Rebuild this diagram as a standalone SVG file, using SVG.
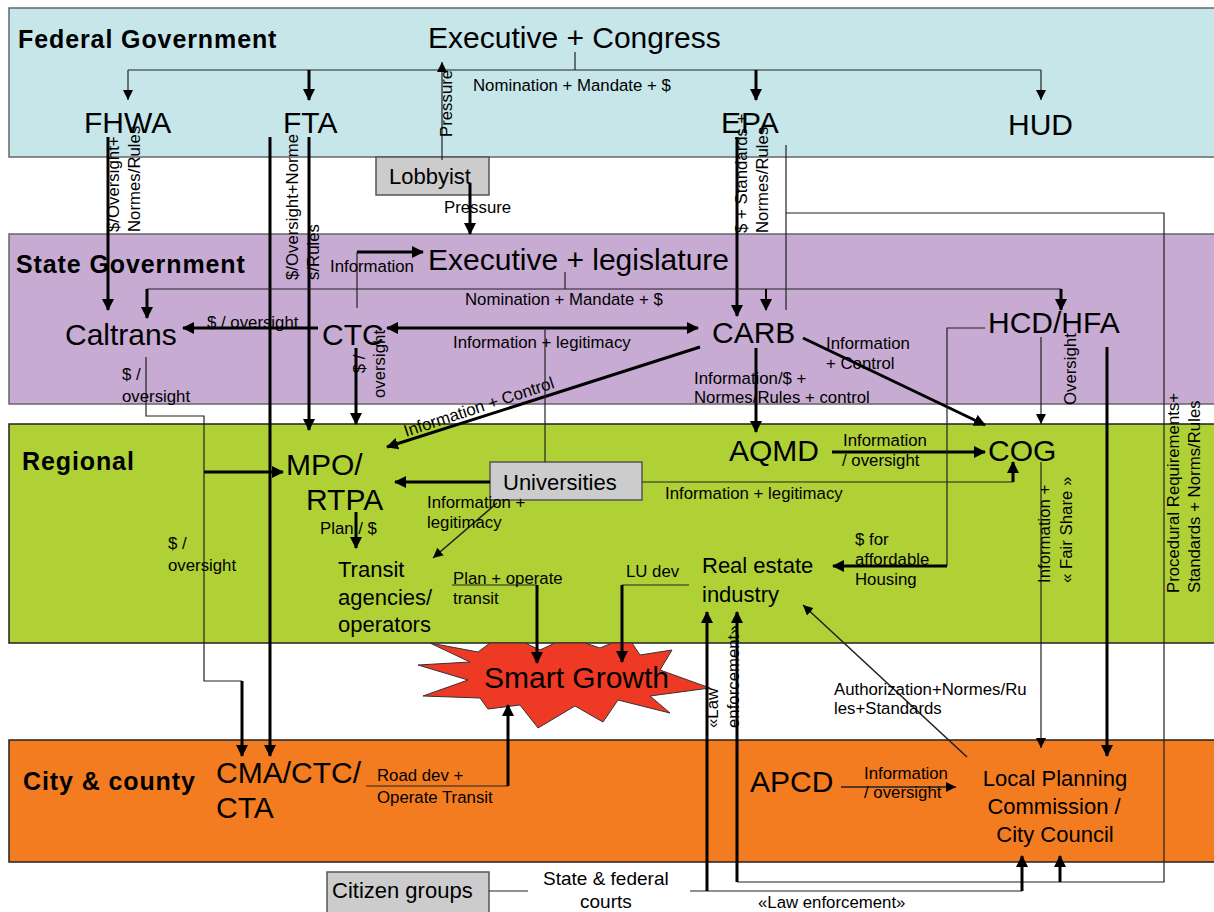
<svg xmlns="http://www.w3.org/2000/svg" width="1214" height="912" viewBox="0 0 1214 912">
<defs>
<style>
text{font-family:"Liberation Sans",Arial,sans-serif;fill:#000}
.band{stroke-width:1.5}
.h{font-weight:bold;font-size:25px;letter-spacing:0.9px}
.big{font-size:30px}
.med{font-size:22px}
.sm{font-size:16.8px}
.th{fill:none;stroke:#000;stroke-width:3}
.tn{fill:none;stroke:#222;stroke-width:1.2}
.box{fill:#cccccc;stroke:#555;stroke-width:1.5}
.ta{marker-end:url(#a3)}
.na{marker-end:url(#a1)}
</style>
<marker id="a3" viewBox="0 0 12 12" refX="11" refY="6" markerWidth="12" markerHeight="12" markerUnits="userSpaceOnUse" orient="auto-start-reverse"><path d="M0,0 L12,6 L0,12 z" fill="#000"/></marker>
<marker id="a1" viewBox="0 0 10 10" refX="10" refY="5" markerWidth="10" markerHeight="10" markerUnits="userSpaceOnUse" orient="auto"><path d="M0,0 L10,5 L0,10 z" fill="#000"/></marker>
</defs>
<rect width="1214" height="912" fill="#fff"/>
<g id="bands">
<rect class="band" x="9" y="8" width="1210" height="149" fill="#c6e6ea" stroke="#666"/>
<rect class="band" x="9" y="234" width="1210" height="170" fill="#c7abd3" stroke="#666"/>
<rect class="band" x="9" y="424" width="1210" height="219" fill="#b0d136" stroke="#222"/>
<rect class="band" x="9" y="740" width="1210" height="122" fill="#f37c21" stroke="#222"/>
<text class="h" x="18" y="48">Federal Government</text>
<text class="h" x="16" y="273">State Government</text>
<text class="h" x="22" y="470">Regional</text>
<text class="h" x="23" y="790">City &amp; county</text>
</g>
<g id="smartgrowth">
<polygon points="430,643 478,652 490,643 525,643 540,650 555,643 585,643 600,648 612,643 632,643 640,655 672,650 660,670 710,688 650,696 670,713 618,700 603,722 575,706 538,728 520,705 488,709 480,698 423,696 468,680 418,665 470,662" fill="#ee3a24" stroke="#333" stroke-width="1"/>
<text class="big" x="484" y="688">Smart Growth</text>
</g>
<g id="exec-congress"><text class="big" x="428" y="48">Executive + Congress</text></g>
<g id="fhwa"><text class="big" x="84" y="133">FHWA</text></g>
<g id="fta"><text class="big" x="283" y="133">FTA</text></g>
<g id="epa"><text class="big" x="721" y="133">EPA</text></g>
<g id="hud"><text class="big" x="1008" y="135">HUD</text></g>
<g id="lobbyist"><rect class="box" x="376" y="157" width="113" height="38"/><text class="med" x="389" y="184">Lobbyist</text></g>
<g id="exec-legislature"><text class="big" x="428" y="270">Executive + legislature</text></g>
<g id="caltrans"><text class="big" x="65" y="345">Caltrans</text></g>
<g id="ctc"><text class="big" x="322" y="345">CTC</text></g>
<g id="carb"><text class="big" x="712" y="343">CARB</text></g>
<g id="hcd-hfa"><text class="big" x="988" y="333">HCD/HFA</text></g>
<g id="mpo-rtpa"><text class="big" x="286" y="475">MPO/</text><text class="big" x="306" y="510">RTPA</text></g>
<g id="universities"><rect class="box" x="490" y="462" width="152" height="38"/><text class="med" x="503" y="490">Universities</text></g>
<g id="aqmd"><text class="big" x="729" y="461">AQMD</text></g>
<g id="cog"><text class="big" x="988" y="461">COG</text></g>
<g id="transit"><text class="med" x="338" y="577">Transit</text><text class="med" x="338" y="605">agencies/</text><text class="med" x="338" y="632">operators</text></g>
<g id="realestate"><text class="med" x="702" y="573">Real estate</text><text class="med" x="702" y="602">industry</text></g>
<g id="cma"><text class="big" x="216" y="783">CMA/CTC/</text><text class="big" x="216" y="818">CTA</text></g>
<g id="apcd"><text class="big" x="750" y="792">APCD</text></g>
<g id="localplanning"><text class="med" x="1055" y="786" text-anchor="middle">Local Planning</text><text class="med" x="1054" y="814" text-anchor="middle">Commission /</text><text class="med" x="1055" y="842" text-anchor="middle">City Council</text></g>
<g id="citizens"><rect class="box" x="327" y="872" width="162" height="45"/><text class="med" x="332" y="898">Citizen groups</text></g>
<g id="courts"><text x="543" y="885" style="font-size:19px">State &amp; federal</text><text x="580" y="908" style="font-size:19px">courts</text></g>
<g id="connectors">
<path class="tn" d="M575,52 V70 M128,70 H1041"/>
<path class="tn na" d="M128,70 V100"/>
<path class="th ta" d="M309,70 V100"/>
<path class="th ta" d="M756,70 V100"/>
<path class="tn na" d="M1041,70 V100"/>
<path class="tn na" d="M442,160 V62"/>
<path class="th ta" d="M470,183 V234"/>
<path class="th ta" d="M108,137 V310"/>
<path class="th ta" d="M270,137 V756"/>
<path class="th ta" d="M309,137 V430"/>
<path class="th ta" d="M737,137 V316"/>
<path class="tn" d="M786,145 V310 M786,213 H1164 V882 H737"/>
<path class="th ta" d="M1060,882 V856"/>
<path class="th ta" d="M737,882 V612"/>
<path class="tn" d="M690,891 H1022 M489,891 H528"/>
<path class="th ta" d="M707,891 V612"/>
<path class="th ta" d="M1022,891 V856"/>
<path class="tn" d="M565,272 V289 M147,289 H1061"/>
<path class="th ta" d="M147,289 V318"/>
<path class="th ta" d="M766,289 V310" style="stroke-width:2"/>
<path class="th ta" d="M1061,289 V310"/>
<path class="tn" d="M357,308 V252"/>
<path class="th ta" d="M357,252 H423"/>
<path class="th ta" d="M318,328 H183"/>
<path class="th ta" d="M387,328 H698" style="marker-start:url(#a3)"/>
<path class="th ta" d="M356,348 V424"/>
<path class="tn" d="M146,357 V416 H204 V681 H242"/>
<path class="th ta" d="M242,681 V756"/>
<path class="th ta" d="M204,472 H283"/>
<path class="th ta" d="M700,347 L387,447"/>
<path class="tn" d="M545,328 V462"/>
<path class="th ta" d="M490,482 H395"/>
<path class="tn" d="M642,482 H1013"/>
<path class="th ta" d="M1013,482 V462"/>
<path class="tn na" d="M497,503 L433,558" style="stroke-width:1.6"/>
<path class="th ta" d="M356,512 V548"/>
<path class="tn" d="M452,585 H537"/>
<path class="th ta" d="M537,585 V663"/>
<path class="tn" d="M689,585 H622"/>
<path class="th ta" d="M622,585 V662"/>
<path class="th ta" d="M756,348 V432"/>
<path class="th ta" d="M832,452 H985"/>
<path class="th ta" d="M803,338 L985,425"/>
<path class="tn na" d="M1041,337 V424"/>
<path class="tn" d="M985,328 H947 V566"/>
<path class="th ta" d="M947,566 H833"/>
<path class="th ta" d="M1107,347 V756"/>
<path class="tn na" d="M1041,462 V748"/>
<path class="tn" d="M366,786 H508"/>
<path class="th ta" d="M508,786 V705"/>
<path class="tn na" d="M841,787 H956" style="stroke-width:1.6"/>
<path class="tn na" d="M967,757 L803,605" style="stroke-width:1.6"/>
</g>
<g id="labels">
<text class="sm" x="473" y="91">Nomination + Mandate + $</text>
<text class="sm" transform="translate(452,137) rotate(-90)">Pressure</text>
<text class="sm" x="444" y="213">Pressure</text>
<text class="sm" transform="translate(119,232) rotate(-90)">$/Oversight+</text>
<text class="sm" transform="translate(140,232) rotate(-90)">Normes/Rules</text>
<text class="sm" transform="translate(298,280) rotate(-90)">$/Oversight+Norme</text>
<text class="sm" transform="translate(319,280) rotate(-90)">s/Rules</text>
<text class="sm" transform="translate(747,233) rotate(-90)">$ + Standards +</text>
<text class="sm" transform="translate(768,233) rotate(-90)">Normes/Rules</text>
<text class="sm" x="330" y="272">Information</text>
<text class="sm" x="465" y="305">Nomination + Mandate + $</text>
<text class="sm" x="207" y="328">$ / oversight</text>
<text class="sm" x="453" y="348">Information + legitimacy</text>
<text class="sm" text-anchor="middle" transform="translate(365,364) rotate(-90)">$ /</text>
<text class="sm" text-anchor="middle" transform="translate(385,364) rotate(-90)">oversight</text>
<text class="sm" x="122" y="380">$ /</text>
<text class="sm" x="122" y="402">oversight</text>
<text class="sm" x="694" y="384">Information/$ +</text>
<text class="sm" x="694" y="403">Normes/Rules + control</text>
<text class="sm" x="826" y="349">Information</text>
<text class="sm" x="826" y="369">+ Control</text>
<text class="sm" transform="translate(1076,405) rotate(-90)">Oversight</text>
<text class="sm" transform="translate(1179,593) rotate(-90)">Procedural Requirements+</text>
<text class="sm" transform="translate(1200,593) rotate(-90)">Standards + Norms/Rules</text>
<text class="sm" transform="translate(406,437) rotate(-18.3)">Information + Control</text>
<text class="sm" x="665" y="499">Information + legitimacy</text>
<text class="sm" x="427" y="508">Information +</text>
<text class="sm" x="427" y="528">legitimacy</text>
<text class="sm" x="320" y="534">Plan / $</text>
<text class="sm" x="453" y="584">Plan + operate</text>
<text class="sm" x="453" y="604">transit</text>
<text class="sm" x="626" y="577">LU dev</text>
<text class="sm" x="843" y="446">Information</text>
<text class="sm" x="842" y="466">/ oversight</text>
<text class="sm" x="855" y="545">$ for</text>
<text class="sm" x="855" y="565">affordable</text>
<text class="sm" x="855" y="585">Housing</text>
<text class="sm" transform="translate(1050,583) rotate(-90)">Information +</text>
<text class="sm" transform="translate(1072,583) rotate(-90)">« Fair Share »</text>
<text class="sm" x="168" y="549">$ /</text>
<text class="sm" x="168" y="571">oversight</text>
<text class="sm" x="834" y="695">Authorization+Normes/Ru</text>
<text class="sm" x="834" y="714">les+Standards</text>
<text class="sm" transform="translate(718,728) rotate(-90)">«Law</text>
<text class="sm" transform="translate(739,728) rotate(-90)">enforcement»</text>
<text class="sm" x="377" y="781">Road dev +</text>
<text class="sm" x="377" y="803">Operate Transit</text>
<text class="sm" x="864" y="779">Information</text>
<text class="sm" x="864" y="798">/ oversight</text>
<text class="sm" x="758" y="908">«Law enforcement»</text>
</g>
</svg>
